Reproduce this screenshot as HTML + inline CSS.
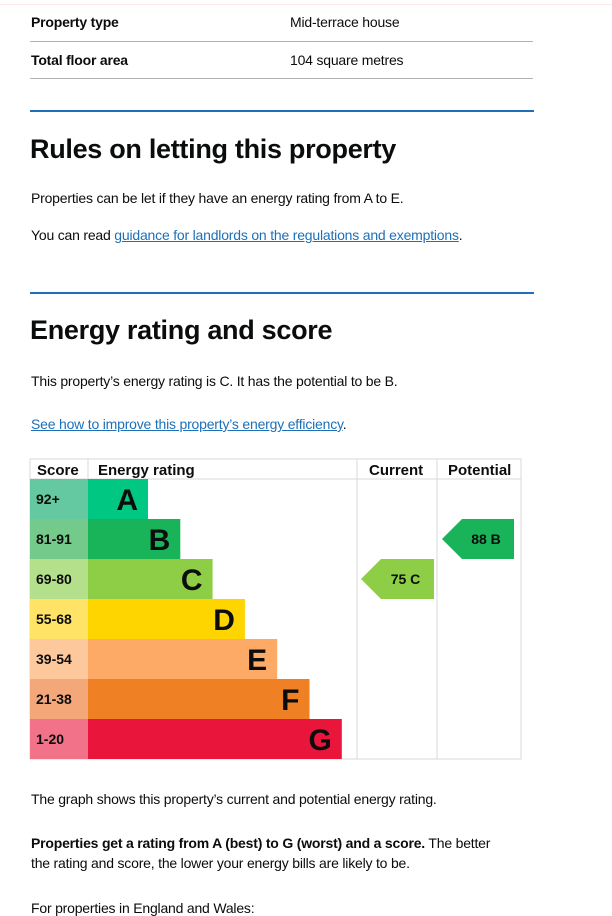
<!DOCTYPE html>
<html><head><meta charset="utf-8">
<style>
body{margin:0;width:612px;height:903px;overflow:hidden;background:#fff;font-family:"Liberation Sans",Arial,sans-serif;color:#0b0c0c;position:relative}
.a{position:absolute;white-space:nowrap}
.t{font-size:14px;letter-spacing:-0.2px}
.rule{position:absolute;left:30px;width:503px;height:1px;background:#b1b4b6}
.blue{position:absolute;left:30px;width:504px;height:2px;background:#1d70b8}
h2{position:absolute;margin:0;font-size:27px;font-weight:bold;left:30px;white-space:nowrap;letter-spacing:-0.3px}
a{color:#1d70b8;text-decoration:underline}
</style></head><body>
<div class="a" style="left:0;top:0;width:612px;height:4px;border-bottom:1px solid #fde8e8"></div>
<div class="a t" style="left:31px;top:14px;font-weight:bold">Property type</div>
<div class="a t" style="left:290px;top:14px">Mid-terrace house</div>
<div class="rule" style="top:41px"></div>
<div class="a t" style="left:31px;top:52px;font-weight:bold">Total floor area</div>
<div class="a t" style="left:290px;top:52px">104 square metres</div>
<div class="rule" style="top:78px"></div>
<div class="blue" style="top:110px"></div>
<h2 style="top:134px">Rules on letting this property</h2>
<div class="a t" style="left:31px;top:190px">Properties can be let if they have an energy rating from A to E.</div>
<div class="a t" style="left:31px;top:227px">You can read <a href="#">guidance for landlords on the regulations and exemptions</a>.</div>
<div class="blue" style="top:292px"></div>
<h2 style="top:315px">Energy rating and score</h2>
<div class="a t" style="left:31px;top:373px">This property’s energy rating is C. It has the potential to be B.</div>
<div class="a t" style="left:31px;top:416px"><a href="#">See how to improve this property’s energy efficiency</a>.</div>

<svg class="a" style="left:0;top:450px" width="612" height="320">
<g id="chart"></g>
</svg>

<div class="a t" style="left:31px;top:791px">The graph shows this property’s current and potential energy rating.</div>
<div class="a t" style="left:31px;top:835px"><b>Properties get a rating from A (best) to G (worst) and a score.</b> The better</div>
<div class="a t" style="left:31px;top:855px">the rating and score, the lower your energy bills are likely to be.</div>
<div class="a t" style="left:31px;top:900px">For properties in England and Wales:</div>

<script>
const bandLetters=["A","B","C","D","E","F","G"];
const bandRanges=["92+","81-91","69-80","55-68","39-54","21-38","1-20"];
const bandMins=[92,81,69,55,39,21,1];
const currentScore=75;
const potentialScore=88;
const barColors=["#00c781","#19b459","#8dce46","#ffd500","#fcaa65","#ef8023","#e9153b"];
const scoreColors=["#64c9a0","#73ca8b","#b5e08b","#ffe366","#fdc89c","#f4a87a","#f2728a"];
const NS="http://www.w3.org/2000/svg";
const g=document.getElementById("chart");
const X0=30,SW=58,BX=88,TOP=29,RH=40,BW0=60,BSTEP=32.3,CX=357,PX=437,RX=521;
function rowY(i){return TOP+i*RH;}
function band(s){for(let i=0;i<bandMins.length;i++){if(s>=bandMins[i])return i;}return bandMins.length-1;}
function mk(t,a){const e=document.createElementNS(NS,t);for(const k in a)e.setAttribute(k,a[k]);g.appendChild(e);return e;}
const H=rowY(bandLetters.length);
let e;
e=mk("rect",{x:X0,y:9,width:RX-X0,height:H-9,fill:"none",stroke:"#d8d8d8","stroke-width":1});


[[BX,9,BX,TOP],[CX,9,CX,H],[PX,9,PX,H],[X0,TOP,RX,TOP]].forEach(l=>{
 e=mk("line",{x1:l[0],y1:l[1],x2:l[2],y2:l[3],stroke:"#d8d8d8","stroke-width":1});
 
 
});
const hdr=[["Score",37],["Energy rating",98],["Current",369],["Potential",448]];
hdr.forEach(h=>{
 e=mk("text",{x:h[1],y:25,"font-size":"15","font-weight":"bold","font-family":"Liberation Sans, Arial, sans-serif",fill:"#0b0c0c"});
 e.textContent=h[0];
 
 
});
bandLetters.forEach((L,i)=>{
 const y=rowY(i);
 e=mk("rect",{x:X0,y:y,width:SW,height:RH,fill:scoreColors[i]});
 
 
 e=mk("text",{x:X0+6,y:y+25,"font-size":"14","font-weight":"bold","font-family":"Liberation Sans, Arial, sans-serif",fill:"#0b0c0c"});
 e.textContent=bandRanges[i];
 
 
 const w=BW0+BSTEP*i;
 e=mk("rect",{x:BX,y:y,width:w,height:RH,fill:barColors[i]});
 
 
 e=mk("text",{x:BX+w-10,y:y+31,"text-anchor":"end","font-size":"30","font-weight":"bold","font-family":"Liberation Sans, Arial, sans-serif",fill:"#0b0c0c"});
 e.textContent=L;
 
 
});
function arrow(score,x0,x1,name){
 const i=band(score),y=rowY(i);
 const pts=[[x0,y+RH/2],[x0+20,y],[x1,y],[x1,y+RH],[x0+20,y+RH]].map(p=>p.join(",")).join(" ");
 e=mk("polygon",{points:pts,fill:barColors[i]});
 
 
 e=mk("text",{x:(x0+x1)/2+8,y:y+25,"text-anchor":"middle","font-size":"14","font-weight":"bold","font-family":"Liberation Sans, Arial, sans-serif",fill:"#0b0c0c","xml:space":"preserve"});
 e.textContent=score+"  "+bandLetters[i];
 
 
}
arrow(currentScore,361,434,"current-rating");
arrow(potentialScore,442,514,"potential-rating");
</script>
</body></html>
